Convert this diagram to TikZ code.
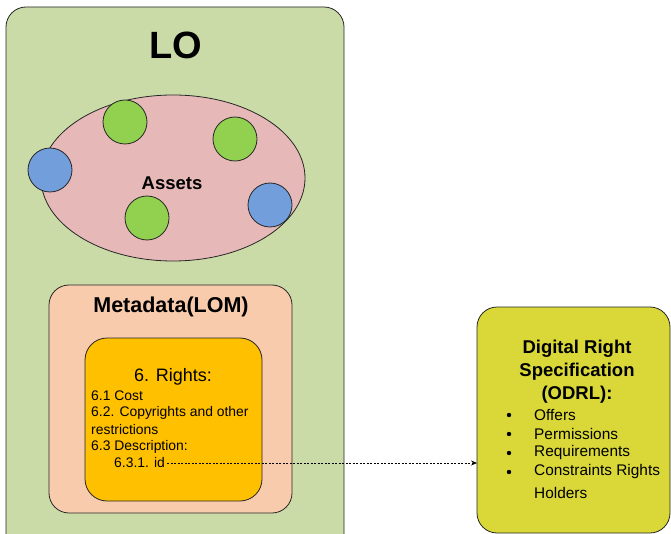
\documentclass[tikz,border=0pt]{standalone}
\usepackage{fontspec}
\setmainfont{Liberation Sans}
\usetikzlibrary{arrows.meta}
\definecolor{logreen}{RGB}{203,219,168}
\definecolor{assetpink}{RGB}{230,185,184}
\definecolor{cgreen}{RGB}{146,208,80}
\definecolor{cblue}{RGB}{114,159,219}
\definecolor{metaorange}{RGB}{248,203,173}
\definecolor{rightsgold}{RGB}{255,192,0}
\definecolor{odrlyellow}{RGB}{217,216,56}
\tikzset{
  outline/.style={draw=black!85, line width=0.8pt},
  rbox/.style={outline, rounded corners=20pt},
  dot/.style={outline, circle, minimum size=44pt, inner sep=0pt},
  lbl/.style={inner sep=0pt, anchor=west, font=\fontsize{13.9}{16}\selectfont},
  blt/.style={inner sep=0pt, anchor=west, font=\fontsize{15.4}{18}\selectfont},
}
\begin{document}
\begin{tikzpicture}[x=1pt,y=-1pt]
\path[use as bounding box, clip] (0,0) rectangle (671,534);
\fill[white] (0,0) rectangle (671,534);
% LO
\draw[rbox, fill=logreen] (6,7) rectangle (344,570);
\node (lo) at (176,45) {\fontsize{38}{42}\selectfont\bfseries LO};
% Assets ellipse
\draw[outline, fill=assetpink] (173,178) ellipse [x radius=132, y radius=83];
\node (assets) at (172,183) {\fontsize{18.5}{20}\selectfont\bfseries Assets};
\node[dot, fill=cgreen] (g1) at (125,122) {};
\node[dot, fill=cgreen] (g2) at (235,139) {};
\node[dot, fill=cblue] (b1) at (50,170) {};
\node[dot, fill=cgreen] (g3) at (147,218) {};
\node[dot, fill=cblue] (b2) at (270,205) {};
% Metadata
\draw[rbox, fill=metaorange] (49,285) rectangle (292,513);
\node (meta) at (171,307) {\fontsize{21.5}{24}\selectfont\bfseries Metadata(LOM)};
% Rights
\draw[rbox, rounded corners=22pt, fill=rightsgold] (85,338) rectangle (262,501);
\node (rights) at (173,377) {\fontsize{18}{20}\selectfont 6. Rights:};
\node[lbl] (r1) at (91,396) {6.1 Cost};
\node[lbl] (r2) at (91,413) {6.2. Copyrights and other};
\node[lbl] (r3) at (91,430) {restrictions};
\node[lbl] (r4) at (91,447) {6.3 Description:};
\node[lbl] (id) at (114,463) {6.3.1. id};
% ODRL
\draw[rbox, fill=odrlyellow] (477,307) rectangle (670,533);
\node[align=center, font=\fontsize{18.5}{23}\selectfont\bfseries] (odrltitle) at (577,372) {Digital Right\\Specification\\(ODRL):};
\node[blt] (o1) at (534,415) {Offers};
\node[blt] (o2) at (534,434) {Permissions};
\node[blt] (o3) at (534,453) {Requirements};
\node[blt] (o4) at (534,472) {Constraints Rights};
\node[blt] (o5) at (534,493) {Holders};
\foreach \n in {o1,o2,o3,o4}{
  \fill (509,0 |- \n.west) circle (2.2pt);
}
% connector
\coordinate (odrlw) at (477,0);
\draw[dashed, dash pattern=on 2pt off 1.5pt, line width=0.7pt, -{Stealth[length=6pt,width=5pt]}] (id.east) ++(2,0) -- (id.east -| odrlw);
\end{tikzpicture}
\end{document}
